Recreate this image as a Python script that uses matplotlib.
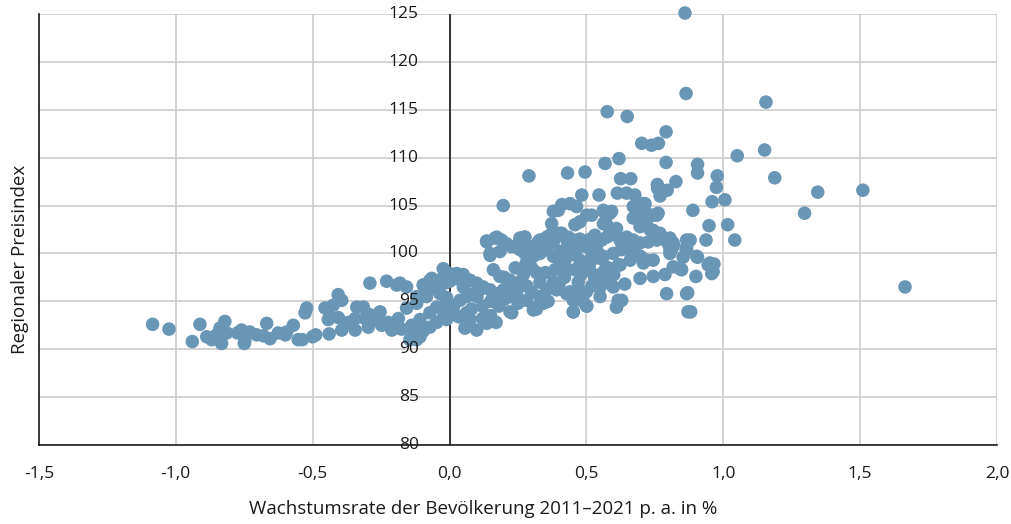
import matplotlib
matplotlib.use("Agg")
import matplotlib.pyplot as plt
import numpy as np

# ---- data ----
growth_rate = [
    # sparse upper / right points
    0.860, 0.864, 1.156, 0.576, 0.649, 0.791, 0.702, 0.738, 0.763, 1.151, 1.051, 0.619, 0.568, 0.791,
    0.290, 0.431, 0.495, 0.906, 0.906, 0.978, 0.975, 1.188, 1.345, 1.510, 0.625, 0.662, 0.759, 0.769,
    0.795, 0.827, 0.483, 0.546, 0.613, 0.647, 0.677, 0.959, 1.006, 0.889, 1.297, 0.948, 1.016, 0.879,
    0.937, 1.042, 0.864, 0.853, 0.906, 0.945, 0.966, 0.958, 0.848, 0.900, 0.870, 0.881, 1.664, 0.769, 0.760,
    # middle cloud
    0.196, 0.410, 0.440, 0.464, 0.397, 0.379, 0.501, 0.519, 0.562, 0.592, 0.708, 0.720, 0.757, 0.373,
    0.458, 0.476, 0.562, 0.574, 0.671, 0.696, 0.720, 0.744, 0.769, 0.805, 0.817, 0.805, 0.135, 0.166,
    0.190, 0.257, 0.275, 0.330, 0.355, 0.379, 0.410, 0.434, 0.452, 0.525, 0.550, 0.586, 0.623, 0.647,
    0.671, 0.696, 0.726, 0.757, 0.148, 0.227, 0.257, 0.275, 0.306, 0.330, 0.355, 0.379, 0.403, 0.428,
    0.464, 0.501, 0.537, 0.562, 0.598, 0.629, 0.665, 0.696, 0.720, 0.744, 0.805, 0.866, 0.903, 0.951,
    0.963, 0.623, 0.696, 0.744, 0.787, 0.817, 0.842, 0.793, 0.866, 0.629, 0.610, 0.452, 0.501, 0.550,
    0.227, 0.318, 0.056, 0.099, 0.136, 0.032, 0.075,
    0.562, 0.586, 0.568, 0.610, 0.671, 0.714, 0.690, 0.744, 0.762, 0.696, 0.732, 0.757, 0.781, 0.799,
    0.817, 0.811, 0.866, 0.866, 0.343, 0.367, 0.403, 0.428, 0.452, 0.476, 0.507, 0.531, 0.556, 0.574,
    0.629, 0.653, 0.671, 0.696, 0.708, 0.660, 0.391, 0.422, 0.452, 0.476, 0.513, 0.550, 0.568, 0.617,
    0.385, 0.403, 0.428, 0.458, 0.483, 0.513, 0.550, 0.580, 0.598, 0.391, 0.428, 0.452, 0.501, 0.452,
    0.616, 0.610, 0.871,
    0.136, 0.172, 0.209, 0.148, 0.184, 0.257, 0.275, 0.294, 0.324, 0.355, -0.023, -0.065, 0.026, 0.050,
    0.001, -0.096, -0.120, -0.157, -0.181, 0.075, 0.099, 0.123, 0.148, 0.172, 0.087, 0.062, 0.038, 0.014,
    0.160, 0.184, 0.221, 0.197, 0.245, 0.282, 0.318, 0.330, 0.355, 0.245, 0.282, 0.318, 0.343, 0.221,
    0.306, -0.060, -0.084, -0.035, -0.047, -0.072, -0.108, -0.133, -0.145, -0.011, 0.001, -0.011, 0.038,
    0.062,
    # left band
    0.000, 0.026, -0.072, -0.096, -0.047, -0.017, -0.291, -0.230, -0.193, -0.407, -0.394, -0.425, -0.455,
    -0.443, -0.522, -0.528, -0.339, -0.315, -0.291, -0.254, -0.538, -0.489, -0.440, -0.394, -0.345,
    -0.297, -0.248, -0.211, -0.175, -0.138, -0.114, -0.443, -0.406, -0.370, -0.345, -0.309, -0.260,
    -0.224, -0.187, -0.157, -0.120, -0.084, -0.060, -0.023, -0.005, 0.002, -0.120, -0.108, -0.096,
    -0.072, -0.047, -0.023, -0.005, 0.001, -0.011,
    -1.085, -1.025, -0.940, -0.912, -0.887, -0.869, -0.851, -0.833, -0.821, -0.814, -0.839, -0.760,
    -0.748, -0.705, -0.668, -0.656, -0.626, -0.595, -0.571, -0.553, -0.750, -0.730, -0.775, -0.500,
    -0.600, -0.680,
    # extra density in the central band
    0.050, 0.100, 0.120, 0.150, 0.180, 0.200, 0.220, 0.250, 0.270, 0.300, 0.330, 0.360, 0.380, 0.400,
    0.420, 0.440, 0.470, 0.500, 0.530, 0.550, 0.580, 0.520, 0.480, 0.150, 0.120, 0.170, 0.220, 0.080,
    0.110, 0.200, 0.240, 0.300, 0.350, 0.280, 0.260, 0.570, 0.600, 0.590, 0.520, 0.480, 0.460, 0.490,
    0.640,
]
price_index = [
    125.1, 116.7, 115.8, 114.8, 114.3, 112.7, 111.5, 111.3, 111.5, 110.8, 110.2, 109.9, 109.4, 109.5,
    108.1, 108.4, 108.5, 109.3, 108.4, 108.1, 106.9, 107.9, 106.4, 106.6, 107.8, 107.8, 107.2, 106.6,
    106.6, 107.5, 106.1, 106.1, 106.3, 106.3, 106.1, 105.4, 105.6, 104.5, 104.2, 102.9, 103.0, 101.4,
    101.4, 101.4, 100.4, 99.6, 99.6, 98.8, 98.9, 97.9, 98.3, 97.6, 95.9, 93.9, 96.5, 106.0, 106.8,
    105.0, 105.1, 105.2, 104.9, 104.5, 104.4, 104.0, 104.0, 104.4, 104.4, 105.2, 104.2, 104.0, 103.1,
    103.0, 103.3, 103.1, 103.0, 103.7, 103.3, 103.0, 102.4, 102.1, 101.6, 101.1, 100.4, 101.3, 101.6,
    101.4, 101.6, 101.7, 101.4, 101.7, 101.2, 102.1, 101.7, 101.4, 101.7, 101.4, 101.9, 101.4, 101.7,
    101.4, 101.1, 101.2, 101.4, 100.0, 100.7, 100.4, 100.0, 99.7, 100.0, 100.4, 99.7, 100.2, 100.5,
    100.4, 100.7, 100.4, 99.7, 100.0, 100.4, 100.0, 99.7, 99.3, 99.3, 100.0, 100.7, 99.7, 99.0,
    98.1, 98.8, 97.4, 97.6, 97.8, 98.6, 98.4, 95.8, 95.8, 95.1, 94.4, 93.9, 94.5, 96.5,
    93.8, 94.2, 92.2, 92.0, 92.7, 93.4, 93.1,
    104.5, 104.2, 103.3, 102.6, 104.9, 105.2, 104.2, 104.0, 104.2, 102.8, 102.5, 102.0, 101.5, 101.0,
    100.8, 100.4, 101.4, 100.4, 101.4, 101.9, 102.1, 101.4, 101.0, 101.5, 101.4, 101.9, 101.4, 101.7,
    101.0, 100.5, 100.0, 99.7, 99.0, 99.3, 99.7, 99.3, 99.9, 99.3, 99.0, 99.5, 98.3, 98.8,
    98.3, 98.6, 98.3, 98.3, 98.4, 98.2, 97.8, 97.0, 96.5, 96.2, 95.8, 95.1, 94.5, 93.9,
    95.1, 94.4, 93.9,
    101.2, 101.7, 101.0, 99.8, 100.2, 101.4, 101.7, 100.7, 101.2, 101.6, 98.4, 97.4, 97.9, 97.8,
    97.1, 96.7, 95.5, 96.5, 96.9, 97.2, 96.9, 96.5, 96.2, 95.8, 95.8, 95.5, 95.1, 94.4,
    98.3, 97.6, 97.2, 96.2, 96.9, 96.6, 98.0, 97.0, 96.2, 95.8, 95.1, 94.4, 94.8, 93.9,
    94.1, 96.5, 95.5, 95.8, 94.4, 93.8, 93.1, 92.0, 91.0, 94.8, 94.1, 93.1, 93.4,
    93.8,
    97.9, 97.4, 97.2, 96.7, 96.4, 96.9, 96.9, 97.1, 96.7, 95.7, 95.1, 94.6, 94.3,
    94.1, 94.3, 93.8, 94.4, 94.4, 93.6, 93.9, 91.0, 91.5, 91.6, 92.0, 92.0,
    92.3, 92.5, 92.0, 92.1, 92.5, 91.8, 93.1, 93.3, 92.8, 93.2, 93.2, 93.0,
    92.8, 93.2, 94.3, 94.8, 95.8, 97.0, 97.5, 97.9, 97.7, 91.0, 91.3, 91.9,
    92.3, 92.8, 93.3, 94.0, 94.7, 95.4,
    92.6, 92.1, 90.8, 92.6, 91.3, 91.0, 91.5, 90.6, 92.9, 91.7, 92.2, 92.0,
    90.8, 91.5, 92.7, 91.1, 91.7, 91.8, 92.5, 91.0, 90.6, 91.8, 91.7, 91.3,
    91.5, 91.4,
    96.5, 95.5, 94.5, 95.0, 94.5, 95.2, 96.0, 94.8, 97.8, 96.0, 95.5, 95.0, 97.0, 96.8,
    97.5, 96.0, 97.0, 96.0, 97.5, 95.5, 98.5, 99.8, 97.8, 93.5, 93.2, 92.8, 95.5, 94.2,
    96.2, 97.5, 98.5, 98.5, 98.0, 99.0, 97.0, 97.3, 97.8, 96.8, 96.6, 95.9, 95.3, 94.9,
    96.8,
]

x_ticks = [-1.5, -1.0, -0.5, 0.0, 0.5, 1.0, 1.5, 2.0]
x_tick_labels = ["-1,5", "-1,0", "-0,5", "0,0", "0,5", "1,0", "1,5", "2,0"]
y_ticks = [80, 85, 90, 95, 100, 105, 110, 115, 120, 125]
x_label = "Wachstumsrate der Bevölkerung 2011–2021 p. a. in %"
y_label = "Regionaler Preisindex"

# ---- styling ----
plt.rcParams["font.family"] = ["Open Sans", "DejaVu Sans"]
W, H = 1012, 524
fig = plt.figure(figsize=(W / 100, H / 100), dpi=100)
ax = fig.add_axes([39 / W, 1 - 445 / H, (997 - 39) / W, (445 - 14) / H])

ax.set_xlim(-1.5, 2.0)
ax.set_ylim(80, 125)
ax.set_xticks(x_ticks)
ax.set_yticks(y_ticks)
ax.grid(True, color="#cccccc", linewidth=1.2, zorder=0)
ax.set_axisbelow(True)
ax.tick_params(axis="both", length=0)
ax.set_yticklabels([])
ax.set_xticklabels(x_tick_labels, fontsize=12.5, color="#1a1a1a")
ax.tick_params(axis="x", pad=15)

for side in ("top", "right"):
    ax.spines[side].set_visible(False)
for side in ("left", "bottom"):
    ax.spines[side].set_color("#1a1a1a")
    ax.spines[side].set_linewidth(1.2)
ax.axvline(0, color="#1a1a1a", linewidth=1.2, zorder=1)

ax.scatter(growth_rate, price_index, s=95, color="#6896b4", edgecolors="none",
           linewidths=0, zorder=3, clip_on=False)

for yv in y_ticks:
    ax.text(-0.112, yv, str(yv), ha="right", va="center", fontsize=12.5,
            color="#1a1a1a", zorder=5)

fig.text(483 / W, 1 - 509 / H, x_label, ha="center", va="center", fontsize=13.5, color="#1a1a1a")
fig.text(20 / W, 1 - 259 / H, y_label, ha="center", va="center", rotation=90,
         fontsize=13.5, color="#1a1a1a")

fig.savefig("out.png", dpi=100)
